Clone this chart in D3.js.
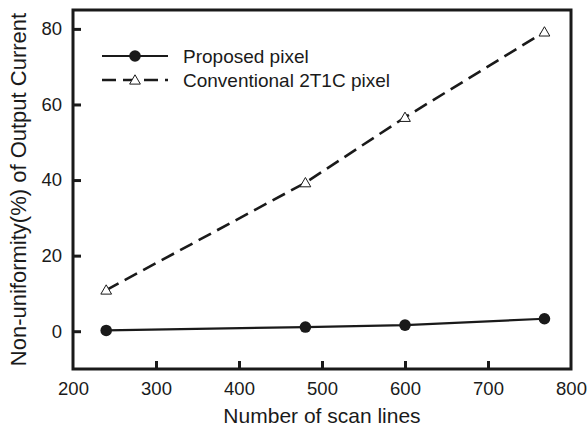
<!DOCTYPE html>
<html>
<head>
<meta charset="utf-8">
<script src="https://cdn.jsdelivr.net/npm/d3@7"></script>
<style>
  body { margin: 0; background: #fff; }
  svg { display: block; }
</style>
</head>
<body>
<svg id="chart"></svg>
<script>
// data
const scanLines = [240, 480, 600, 768];
const proposed = [0.2, 1.1, 1.6, 3.3];
const conventional = [10.9, 39.3, 56.6, 79.2];
const seriesNames = ["Proposed pixel", "Conventional 2T1C pixel"];
const xTicks = [200, 300, 400, 500, 600, 700, 800];
const yTicks = [0, 20, 40, 60, 80];

const width = 588, height = 429;
const margin = { top: 10, right: 17, bottom: 60, left: 73 };
const ink = "#1a1a1a";
const font = "'Liberation Sans', Arial, sans-serif";

const svg = d3.select("#chart")
    .attr("width", width)
    .attr("height", height)
    .style("font-family", font);

const x = d3.scaleLinear().domain([200, 800]).range([margin.left, width - margin.right]);
const y = d3.scaleLinear().domain([-10, 85]).range([height - margin.bottom, margin.top]);

// inward ticks on left and bottom
const xAxis = d3.axisBottom(x).tickValues(xTicks).tickSize(-8).tickPadding(13).tickFormat(d3.format("d"));
const yAxis = d3.axisLeft(y).tickValues(yTicks).tickSize(-8).tickPadding(11).tickFormat(d3.format("d"));

const gx = svg.append("g")
    .attr("transform", `translate(0,${height - margin.bottom})`)
    .call(xAxis);
const gy = svg.append("g")
    .attr("transform", `translate(${margin.left},0)`)
    .call(yAxis);

[gx, gy].forEach(g => {
    g.select(".domain").remove();
    g.selectAll(".tick line").attr("stroke", ink).attr("stroke-width", 3);
    g.selectAll(".tick text").attr("fill", ink).style("font-size", "18.5px").style("font-family", font);
});
gx.selectAll(".tick line").filter(d => d == 200 || d == 800).remove();

// frame
svg.append("rect")
    .attr("x", margin.left)
    .attr("y", margin.top)
    .attr("width", width - margin.left - margin.right)
    .attr("height", height - margin.top - margin.bottom)
    .attr("fill", "none")
    .attr("stroke", ink)
    .attr("stroke-width", 3);

const line = d3.line().x(d => x(d[0])).y(d => y(d[1]));

const propPts = scanLines.map((s, i) => [s, proposed[i]]);
const convPts = scanLines.map((s, i) => [s, conventional[i]]);

svg.append("path")
    .attr("d", line(convPts))
    .attr("fill", "none")
    .attr("stroke", ink)
    .attr("stroke-width", 2.6)
    .attr("stroke-dasharray", "14,7");

svg.append("path")
    .attr("d", line(propPts))
    .attr("fill", "none")
    .attr("stroke", ink)
    .attr("stroke-width", 2.2);

const tri = d3.symbol().type(d3.symbolTriangle).size(50);

svg.selectAll(".tri")
    .data(convPts)
    .join("path")
    .attr("transform", d => `translate(${x(d[0])},${y(d[1]) + 1})`)
    .attr("d", tri)
    .attr("fill", "#fff")
    .attr("stroke", ink)
    .attr("stroke-width", 1);

svg.selectAll(".dot")
    .data(propPts)
    .join("circle")
    .attr("cx", d => x(d[0]))
    .attr("cy", d => y(d[1]))
    .attr("r", 5.8)
    .attr("fill", ink);

// legend
const legend = svg.append("g").attr("transform", "translate(102,56)");
legend.append("line").attr("x1", 0).attr("x2", 66).attr("y1", 0).attr("y2", 0)
    .attr("stroke", ink).attr("stroke-width", 2.2);
legend.append("circle").attr("cx", 33).attr("cy", 0).attr("r", 5.8).attr("fill", ink);
legend.append("line").attr("x1", 0).attr("x2", 66).attr("y1", 24).attr("y2", 24)
    .attr("stroke", ink).attr("stroke-width", 2.6).attr("stroke-dasharray", "14,7");
legend.append("path").attr("transform", "translate(33,25)").attr("d", tri)
    .attr("fill", "#fff").attr("stroke", ink).attr("stroke-width", 1);
legend.selectAll("text")
    .data(seriesNames)
    .join("text")
    .attr("x", 81)
    .attr("y", (d, i) => i * 24)
    .attr("dy", "0.35em")
    .attr("fill", ink)
    .style("font-size", "19px")
    .text(d => d);

// axis titles
svg.append("text")
    .attr("x", (margin.left + width - margin.right) / 2)
    .attr("y", 423)
    .attr("text-anchor", "middle")
    .attr("fill", ink)
    .style("font-size", "21px")
    .text("Number of scan lines");

svg.append("text")
    .attr("transform", `translate(26,${(margin.top + height - margin.bottom) / 2}) rotate(-90)`)
    .attr("text-anchor", "middle")
    .attr("fill", ink)
    .style("font-size", "22px")
    .text("Non-uniformity(%) of Output Current");
</script>
</body>
</html>
